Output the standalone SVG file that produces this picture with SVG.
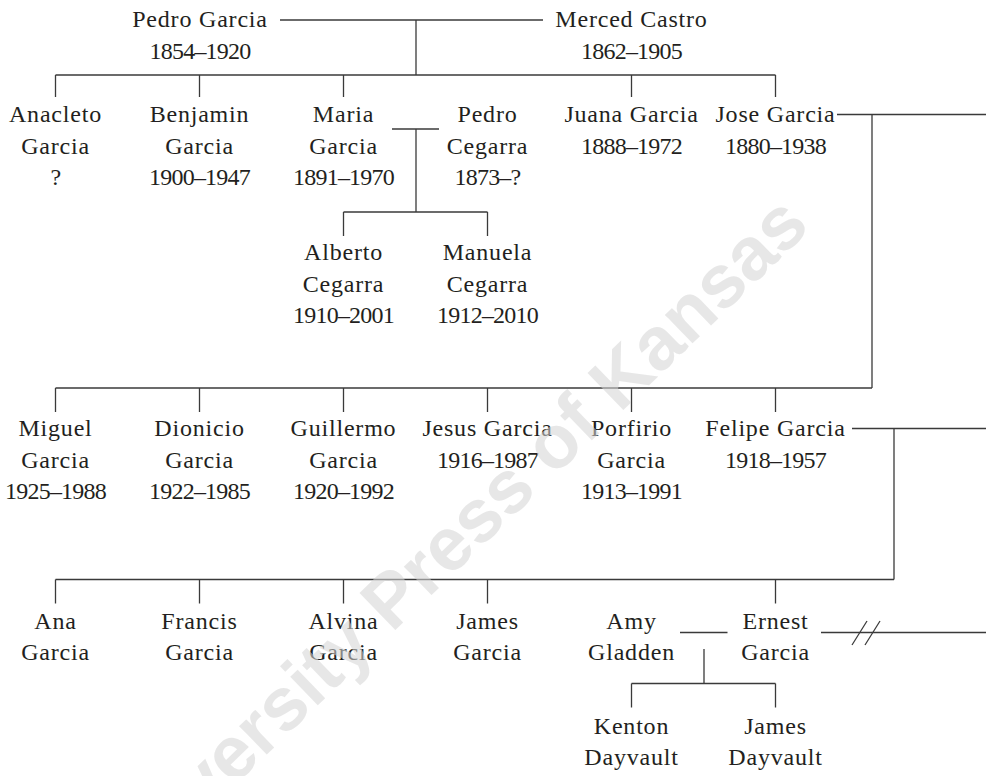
<svg xmlns="http://www.w3.org/2000/svg" width="986" height="776" viewBox="0 0 986 776">
<style>
  text { font-family: "Liberation Serif", "Times New Roman", serif; font-size: 24px; fill: #231f20; text-anchor: middle; letter-spacing: 0.8px; }
  text.d { letter-spacing: -0.8px; }
  .conn line, .conn path { stroke: #3a3a3a; stroke-width: 1.3; fill: none; }
  .wm { font-family: "Liberation Sans", Arial, sans-serif; font-weight: bold; font-size: 75px; fill: #d6d6d6; opacity: 0.56; text-anchor: start; letter-spacing: 0; }
</style>
<rect width="986" height="776" fill="#ffffff"/>

<g id="connectors" class="conn">
  <!-- Pedro Garcia & Merced Castro -->
  <line x1="280" y1="20" x2="543" y2="20"/>
  <line x1="416" y1="20" x2="416" y2="75"/>
  <line x1="55.5" y1="75" x2="775.5" y2="75"/>
  <line x1="55.5" y1="75" x2="55.5" y2="97"/>
  <line x1="199.5" y1="75" x2="199.5" y2="97"/>
  <line x1="343.5" y1="75" x2="343.5" y2="97"/>
  <line x1="631.5" y1="75" x2="631.5" y2="97"/>
  <line x1="775.5" y1="75" x2="775.5" y2="97"/>
  <!-- Maria Garcia & Pedro Cegarra -->
  <line x1="392" y1="129" x2="439" y2="129"/>
  <line x1="416" y1="129" x2="416" y2="212"/>
  <line x1="343.5" y1="212" x2="487.5" y2="212"/>
  <line x1="343.5" y1="212" x2="343.5" y2="236"/>
  <line x1="487.5" y1="212" x2="487.5" y2="236"/>
  <!-- Jose Garcia -->
  <line x1="837" y1="114.5" x2="986" y2="114.5"/>
  <line x1="872" y1="114.5" x2="872" y2="388"/>
  <line x1="55.5" y1="388" x2="872" y2="388"/>
  <line x1="55.5" y1="388" x2="55.5" y2="412"/>
  <line x1="199.5" y1="388" x2="199.5" y2="412"/>
  <line x1="343.5" y1="388" x2="343.5" y2="412"/>
  <line x1="487.5" y1="388" x2="487.5" y2="412"/>
  <line x1="631.5" y1="388" x2="631.5" y2="412"/>
  <line x1="775.5" y1="388" x2="775.5" y2="412"/>
  <!-- Felipe Garcia -->
  <line x1="852" y1="428.5" x2="986" y2="428.5"/>
  <line x1="894" y1="428.5" x2="894" y2="579.5"/>
  <line x1="55.5" y1="579.5" x2="894" y2="579.5"/>
  <line x1="55.5" y1="579.5" x2="55.5" y2="603.5"/>
  <line x1="199.5" y1="579.5" x2="199.5" y2="603.5"/>
  <line x1="343.5" y1="579.5" x2="343.5" y2="603.5"/>
  <line x1="487.5" y1="579.5" x2="487.5" y2="603.5"/>
  <line x1="775.5" y1="579.5" x2="775.5" y2="603.5"/>
  <!-- Amy Gladden & Ernest Garcia -->
  <line x1="680" y1="632.5" x2="727.5" y2="632.5"/>
  <line x1="704" y1="649" x2="704" y2="683.5"/>
  <line x1="631.5" y1="683.5" x2="775.5" y2="683.5"/>
  <line x1="631.5" y1="683.5" x2="631.5" y2="707.5"/>
  <line x1="775.5" y1="683.5" x2="775.5" y2="707.5"/>
  <!-- Ernest Garcia divorced line -->
  <line x1="821" y1="632.5" x2="986" y2="632.5"/>
  <line x1="852" y1="645" x2="867" y2="621"/>
  <line x1="865" y1="645" x2="880" y2="621"/>
</g>

<g id="pedro-garcia"><text x="200" y="27">Pedro Garcia</text><text class="d" x="200" y="59">1854–1920</text></g>
<g id="merced-castro"><text x="631.5" y="27">Merced Castro</text><text class="d" x="631.5" y="59">1862–1905</text></g>

<g id="anacleto-garcia"><text x="55.5" y="122">Anacleto</text><text x="55.5" y="153.5">Garcia</text><text class="d" x="55.5" y="185">?</text></g>
<g id="benjamin-garcia"><text x="199.5" y="122">Benjamin</text><text x="199.5" y="153.5">Garcia</text><text class="d" x="199.5" y="185">1900–1947</text></g>
<g id="maria-garcia"><text x="343.5" y="122">Maria</text><text x="343.5" y="153.5">Garcia</text><text class="d" x="343.5" y="185">1891–1970</text></g>
<g id="pedro-cegarra"><text x="487.5" y="122">Pedro</text><text x="487.5" y="153.5">Cegarra</text><text class="d" x="487.5" y="185">1873–?</text></g>
<g id="juana-garcia"><text x="631.5" y="122">Juana Garcia</text><text class="d" x="631.5" y="153.5">1888–1972</text></g>
<g id="jose-garcia"><text x="775.5" y="122">Jose Garcia</text><text class="d" x="775.5" y="153.5">1880–1938</text></g>

<g id="alberto-cegarra"><text x="343.5" y="260">Alberto</text><text x="343.5" y="291.5">Cegarra</text><text class="d" x="343.5" y="323">1910–2001</text></g>
<g id="manuela-cegarra"><text x="487.5" y="260">Manuela</text><text x="487.5" y="291.5">Cegarra</text><text class="d" x="487.5" y="323">1912–2010</text></g>

<g id="miguel-garcia"><text x="55.5" y="436">Miguel</text><text x="55.5" y="467.5">Garcia</text><text class="d" x="55.5" y="499">1925–1988</text></g>
<g id="dionicio-garcia"><text x="199.5" y="436">Dionicio</text><text x="199.5" y="467.5">Garcia</text><text class="d" x="199.5" y="499">1922–1985</text></g>
<g id="guillermo-garcia"><text x="343.5" y="436">Guillermo</text><text x="343.5" y="467.5">Garcia</text><text class="d" x="343.5" y="499">1920–1992</text></g>
<g id="jesus-garcia"><text x="487.5" y="436">Jesus Garcia</text><text class="d" x="487.5" y="467.5">1916–1987</text></g>
<g id="porfirio-garcia"><text x="631.5" y="436">Porfirio</text><text x="631.5" y="467.5">Garcia</text><text class="d" x="631.5" y="499">1913–1991</text></g>
<g id="felipe-garcia"><text x="775.5" y="436">Felipe Garcia</text><text class="d" x="775.5" y="467.5">1918–1957</text></g>

<g id="ana-garcia"><text x="55.5" y="628.5">Ana</text><text x="55.5" y="660">Garcia</text></g>
<g id="francis-garcia"><text x="199.5" y="628.5">Francis</text><text x="199.5" y="660">Garcia</text></g>
<g id="alvina-garcia"><text x="343.5" y="628.5">Alvina</text><text x="343.5" y="660">Garcia</text></g>
<g id="james-garcia"><text x="487.5" y="628.5">James</text><text x="487.5" y="660">Garcia</text></g>
<g id="amy-gladden"><text x="631.5" y="628.5">Amy</text><text x="631.5" y="660">Gladden</text></g>
<g id="ernest-garcia"><text x="775.5" y="628.5">Ernest</text><text x="775.5" y="660">Garcia</text></g>

<g id="kenton-dayvault"><text x="631.5" y="733.5">Kenton</text><text x="631.5" y="765">Dayvault</text></g>
<g id="james-dayvault"><text x="775.5" y="733.5">James</text><text x="775.5" y="765">Dayvault</text></g>

<g id="watermark">
  <text class="wm" transform="translate(116,900) rotate(-44)">University Press of Kansas</text>
</g>
</svg>
